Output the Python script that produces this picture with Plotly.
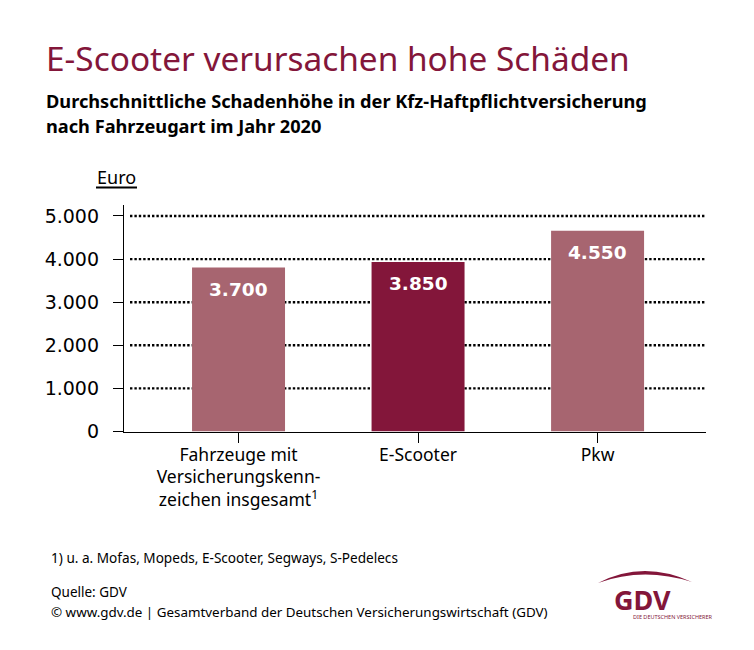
import plotly.graph_objects as go

# the page keeps an 8px body margin, so the figure is drawn a bit smaller and positions are offset
PAGE = 8
W = 754 - PAGE
H = 650 - PAGE

categories = ["Fahrzeuge mit<br>Versicherungskenn-<br>zeichen insgesamt<sup>1</sup>", "E-Scooter", "Pkw"]
# bar heights as drawn in the picture, a bit above what the printed labels say
bar_heights = [3805, 3935, 4655]
bar_labels = ["3.700", "3.850", "4.550"]
bar_colors = ["#a76570", "#83163a", "#a76570"]
y_ticks = [0, 1000, 2000, 3000, 4000, 5000]
y_labels = ["0", "1.000", "2.000", "3.000", "4.000", "5.000"]

title = "E-Scooter verursachen hohe Schäden"
subtitle_1 = "Durchschnittliche Schadenhöhe in der Kfz-Haftpflichtversicherung"
subtitle_2 = "nach Fahrzeugart im Jahr 2020"
footnote = "1) u. a. Mofas, Mopeds, E-Scooter, Segways, S-Pedelecs"
source_1 = "Quelle: GDV"
source_2 = "© www.gdv.de | Gesamtverband der Deutschen Versicherungswirtschaft (GDV)"

RED = "#83163a"
FONT = "Noto Sans"


def px(x):
    return (x - PAGE) / W


def py(y):
    return 1 - (y - PAGE) / H


def label(x, y, text, size, color="black", xanchor="left", family=FONT):
    fig.add_annotation(xref="paper", yref="paper", x=px(x), y=py(y), text=text, showarrow=False,
                       xanchor=xanchor, yanchor="middle", borderpad=0,
                       font=dict(family=family, size=size, color=color))


fig = go.Figure()
fig.add_trace(go.Bar(x=list(range(len(categories))), y=bar_heights, width=0.518,
                     marker=dict(color=bar_colors, line_width=0), hoverinfo="skip"))

fig.update_layout(
    width=W, height=H, margin=dict(l=0, r=0, t=0, b=0),
    paper_bgcolor="white", plot_bgcolor="white", showlegend=False,
    font=dict(family=FONT, color="black"),
)
fig.update_xaxes(domain=[px(124), px(706)], range=[-0.638, 2.604], tickmode="array",
                 tickvals=list(range(len(categories))), ticktext=categories, automargin=False,
                 ticks="outside", ticklen=10, tickwidth=1, tickcolor="black", ticklabelstandoff=-3,
                 showline=True, linecolor="black", linewidth=1.3, showgrid=False, zeroline=False,
                 tickfont=dict(family=FONT, size=17.5), tickangle=0)
fig.update_yaxes(domain=[py(431.5), py(205)], range=[0, 5255], tickmode="array",
                 tickvals=y_ticks, ticktext=y_labels, automargin=False,
                 ticks="outside", ticklen=10, tickwidth=1, tickcolor="black", ticklabelstandoff=10,
                 showline=True, linecolor="black", linewidth=1.3, zeroline=False, showgrid=False,
                 tickfont=dict(family="DejaVu Sans", size=19))

# dotted grid starts a little right of the axis, so it is drawn by hand
for t in y_ticks[1:]:
    fig.add_shape(type="line", xref="paper", yref="y", x0=px(130), x1=px(706), y0=t, y1=t, layer="below",
                  line=dict(color="black", width=2.4, dash="2.4px,2px"))

for i, txt in enumerate(bar_labels):
    fig.add_annotation(x=i, y=bar_heights[i], yshift=-22, text=f"<b>{txt}</b>", showarrow=False,
                       font=dict(family="DejaVu Sans", size=18.5, color="white"))

label(45, 58, title, 33.4, color=RED)
label(45, 101, f"<b>{subtitle_1}</b>", 18.2)
label(45, 126, f"<b>{subtitle_2}</b>", 18.2)
label(96, 177, "Euro", 18)
fig.add_shape(type="line", xref="paper", yref="paper", x0=px(96), x1=px(137), y0=py(187.5), y1=py(187.5),
              line=dict(color="black", width=2))
label(50, 557, footnote, 13.6)
label(50, 592, source_1, 13.5)
label(50, 612, source_2, 13.4)

# GDV logo
swoosh = (f"M {px(598)} {py(583)} Q {px(643)} {py(559.5)} {px(692)} {py(582)} "
          f"Q {px(643)} {py(566.5)} {px(598)} {py(583)} Z")
fig.add_shape(type="path", xref="paper", yref="paper", path=swoosh, fillcolor=RED, line_width=0)
label(642, 599, "<b>GDV</b>", 27, color=RED, xanchor="center")
label(673, 617, "DIE DEUTSCHEN VERSICHERER", 5.5, color=RED, xanchor="center")

fig.write_html("out.html")
